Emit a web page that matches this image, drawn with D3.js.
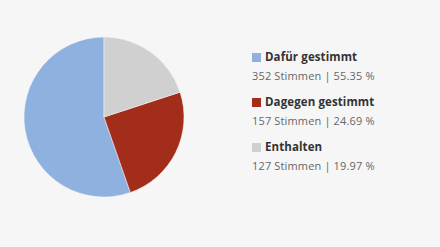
<!DOCTYPE html>
<html>
<head>
<meta charset="utf-8">
<script src="https://cdn.jsdelivr.net/npm/d3@7"></script>
<style>
  html, body { margin: 0; padding: 0; background: #f6f6f6; }
  svg { display: block; font-family: "Open Sans", sans-serif; }
</style>
</head>
<body>
<div id="chart"></div>
<script>
const labels = ['Dafür gestimmt', 'Dagegen gestimmt', 'Enthalten'];
const votes = [352, 157, 127];
const shares = ['55.35', '24.69', '19.97'];
const colors = ['#8eb1e0', '#a12d1a', '#d0d0d0'];

const w = 440;
const h = 247;
const cx = 104;
const cy = 117;
const r = 80;

const svg = d3.select('#chart')
              .append('svg')
              .attr('width', w)
              .attr('height', h);

svg.append('rect')
   .attr('width', w)
   .attr('height', h)
   .attr('fill', '#f6f6f6');

// counter-clockwise from the top
const pie = d3.pie()
              .sort(null)
              .startAngle(0)
              .endAngle(-2 * Math.PI)
              .value(d => d);

const arc = d3.arc()
              .innerRadius(0)
              .outerRadius(r);

svg.append('g')
   .attr('transform', 'translate(' + cx + ',' + cy + ')')
   .selectAll('path')
   .data(pie(votes))
   .enter()
   .append('path')
   .attr('d', arc)
   .attr('fill', (d, i) => colors[i])
   .attr('stroke', '#f6f6f6')
   .attr('stroke-width', 0.5);

const rowY = d3.scaleLinear()
               .domain([0, 1])
               .range([57, 102]);

const legend = svg.selectAll('.item')
                  .data(labels)
                  .enter()
                  .append('g')
                  .attr('class', 'item')
                  .attr('transform', (d, i) => 'translate(252,' + rowY(i) + ')');

legend.append('rect')
      .attr('x', 0)
      .attr('y', -4)
      .attr('width', 9)
      .attr('height', 9)
      .attr('fill', (d, i) => colors[i]);

legend.append('text')
      .attr('x', 13)
      .attr('y', 4)
      .attr('font-size', 11.5)
      .attr('font-weight', 'bold')
      .attr('letter-spacing', 0.1)
      .attr('fill', '#333')
      .text(d => d);

legend.append('text')
      .attr('x', 0)
      .attr('y', 23)
      .attr('font-size', 11)
      .attr('letter-spacing', 0.15)
      .attr('fill', '#666')
      .text((d, i) => votes[i] + ' Stimmen | ' + shares[i] + ' %');
</script>
</body>
</html>
